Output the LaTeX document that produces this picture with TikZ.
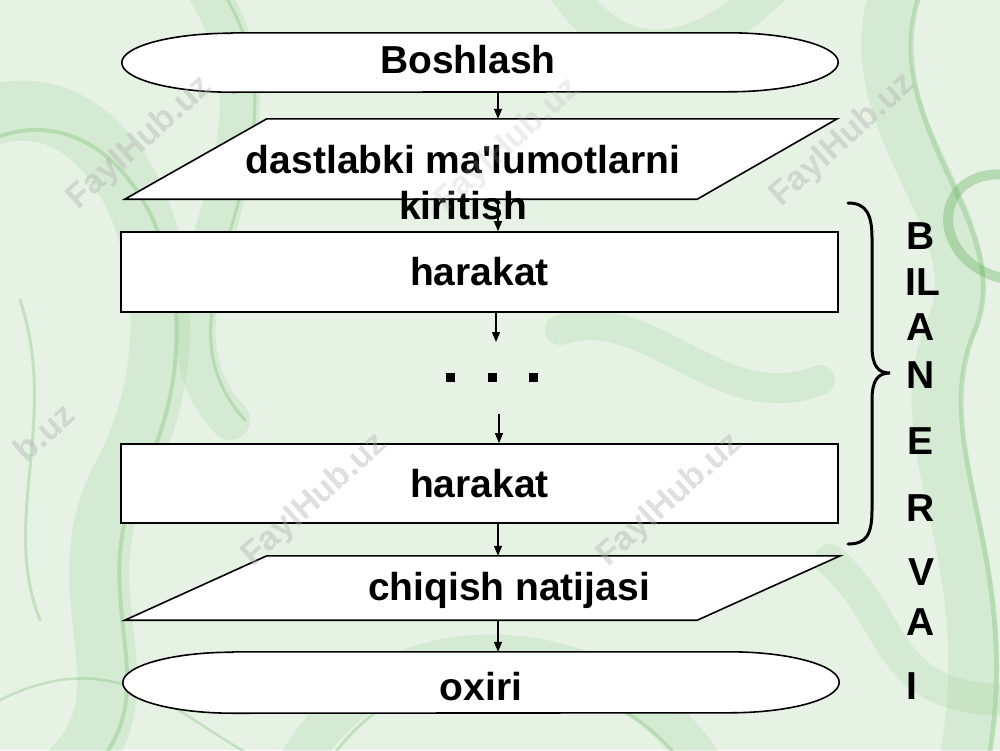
\documentclass[tikz,border=0pt]{standalone}
\usepackage{fontspec}
\setmainfont{Liberation Sans}
\newfontfamily\arialf{Liberation Sans}
\usetikzlibrary{arrows.meta,calc}
\definecolor{bgg}{HTML}{E6F2E4}
\definecolor{swirl}{HTML}{9DD197}
\definecolor{swirlb}{HTML}{5DB055}
\definecolor{wm}{HTML}{B0B0B0}
\begin{document}
\begin{tikzpicture}[x=1pt,y=-1pt,
  lbl/.style={font=\arialf\bfseries\fontsize{39}{46}\selectfont, inner sep=0pt, text=black},
  holder/.style={draw=none, inner sep=0pt},
  shp/.style={draw=black, line width=1.6pt, fill=white},
  actbox/.style={shp, inner sep=0pt, minimum width=717pt, minimum height=80pt, font=\arialf\bfseries\fontsize{39}{46}\selectfont},
  arr/.style={-{Triangle[length=10pt,width=8pt]}, line width=1.2pt},
  sq/.style={fill=black, draw=none, minimum size=9pt, inner sep=0pt},
  band/.style={line width=#1, swirl, opacity=0.22, line cap=round},
  thin/.style={line width=#1, swirlb, opacity=0.25, line cap=round},
  wmk/.style={font=\arialf\bfseries\fontsize{34}{40}\selectfont, text=wm, opacity=0.4, rotate=42, inner sep=0pt}
]
\useasboundingbox (0,0) rectangle (1000,750);
\fill[bgg] (0,0) rectangle (1000,750);
% background marble swirls
\begin{scope}
\clip (0,0) rectangle (1000,750);
\draw[band=60pt] (-20,120) .. controls (120,60) and (220,300) .. (120,480) .. controls (60,600) and (160,700) .. (60,780);
\draw[thin=4pt] (-10,140) .. controls (130,80) and (235,300) .. (140,480) .. controls (80,600) and (180,700) .. (80,780);
\draw[band=40pt] (200,-20) .. controls (320,150) and (120,300) .. (230,420);
\draw[thin=3pt] (215,-20) .. controls (335,150) and (135,300) .. (245,420);
\draw[band=50pt] (900,-20) .. controls (840,120) and (1000,220) .. (950,330) .. controls (900,450) and (1010,560) .. (960,780);
\draw[thin=5pt] (925,-20) .. controls (865,120) and (1020,220) .. (975,330) .. controls (925,450) and (1030,560) .. (985,780);
\draw[thin=10pt, opacity=0.35] (1010,175) .. controls (930,165) and (925,265) .. (1010,280);
\draw[band=36pt] (560,-20) .. controls (620,80) and (700,60) .. (780,-20);
\draw[band=40pt] (300,760) .. controls (400,600) and (620,640) .. (700,760);
\draw[thin=3pt] (330,760) .. controls (420,630) and (600,660) .. (680,760);
\draw[band=32pt] (830,560) .. controls (900,620) and (880,700) .. (1010,700);
\draw[thin=3pt] (20,300) .. controls (60,420) and (0,520) .. (40,620);
\draw[band=30pt] (560,330) .. controls (650,300) and (720,420) .. (820,380);
\draw[thin=2.5pt] (0,700) .. controls (120,640) and (180,720) .. (260,760);
\end{scope}

% shape holders
\node[holder, minimum width=716pt, minimum height=59pt] (start) at (480,62.5) {};
\node[holder, minimum width=712pt, minimum height=80pt] (io1) at (481,159) {};
\node[holder, minimum width=715pt, minimum height=64pt] (io2) at (482.5,588) {};
\node[holder, minimum width=716pt, minimum height=61pt] (stop) at (481,682.5) {};

% terminators
\draw[shp] ($(start.north west)+(110,0)$) -- ($(start.north east)+(-110,0)$)
  arc[start angle=-90,end angle=90,x radius=110,y radius=29.5]
  -- ($(start.south west)+(110,0)$)
  arc[start angle=90,end angle=270,x radius=110,y radius=29.5] -- cycle;
\draw[shp] ($(stop.north west)+(110,0)$) -- ($(stop.north east)+(-110,0)$)
  arc[start angle=-90,end angle=90,x radius=110,y radius=30.5]
  -- ($(stop.south west)+(110,0)$)
  arc[start angle=90,end angle=270,x radius=110,y radius=30.5] -- cycle;
% parallelograms
\draw[shp] (io1.south west) -- ($(io1.south east)+(-140,0)$) -- (io1.north east)
  -- ($(io1.north west)+(142,0)$) -- cycle;
\draw[shp] (io2.south west) -- ($(io2.south east)+(-143,0)$) -- (io2.north east)
  -- ($(io2.north west)+(142,0)$) -- cycle;
% process boxes
\node[actbox] (act1) at (479.5,272) {harakat};
\node[actbox, minimum height=79pt] (act2) at (479.5,483.5) {harakat};

% texts
\node[lbl] (tstart) at (468,60) {Boshlash};
\node[lbl, align=center] (tio1) at (463,183) {dastlabki ma'lumotlarni\\kiritish};
\node[lbl] (tio2) at (509,590) {chiqish natijasi};
\node[lbl] (tstop) at (481,687) {oxiri};

% dots
\node[sq] (d1) at (450,377) {};
\node[sq] (d2) at (492,377) {};
\node[sq] (d3) at (533,377) {};

% connectors
\coordinate (ax) at (498,0);
\coordinate (e1) at (496,342);
\coordinate (e2) at (499,414);
\draw[arr] (start.south -| ax) -- (io1.north -| ax);
\draw[arr] (io1.south -| ax) -- (act1.north -| ax);
\draw[arr] (act1.south -| e1) -- (e1);
\draw[arr] (e2) -- (act2.north -| e2);
\draw[arr] (act2.south -| ax) -- (io2.north -| ax);
\draw[arr] (io2.south -| ax) -- (stop.north -| ax);

% brace
\draw[line width=3pt, line cap=round] (848,203) .. controls (866,203) and (872,214) .. (872,238)
  -- (872,346) .. controls (872,366) and (878,373) .. (890,373)
  .. controls (878,373) and (872,380) .. (872,400)
  -- (872,510) .. controls (872,535) and (866,544) .. (848,544);

% vertical word
\node[lbl] (l1) at (921,236) {B};
\node[lbl] (l2) at (923,282) {IL};
\node[lbl] (l3) at (921,327) {A};
\node[lbl] (l4) at (921,375) {N};
\node[lbl] (l5) at (920,441) {E};
\node[lbl] (l6) at (921,508) {R};
\node[lbl] (l7) at (921,572) {V};
\node[lbl] (l8) at (921,622) {A};
\node[lbl] (l9) at (912,686) {I};

% watermarks
\node[wmk] (w1) at (140,143) {FaylHub.uz};
\node[wmk, opacity=0.22] (w2) at (508,145) {FaylHub.uz};
\node[wmk] (w3) at (843,140) {FaylHub.uz};
\node[wmk] (w4) at (44,432) {b.uz};
\node[wmk] (w5) at (315,500) {FaylHub.uz};
\node[wmk] (w6) at (670,500) {FaylHub.uz};
\end{tikzpicture}
\end{document}
